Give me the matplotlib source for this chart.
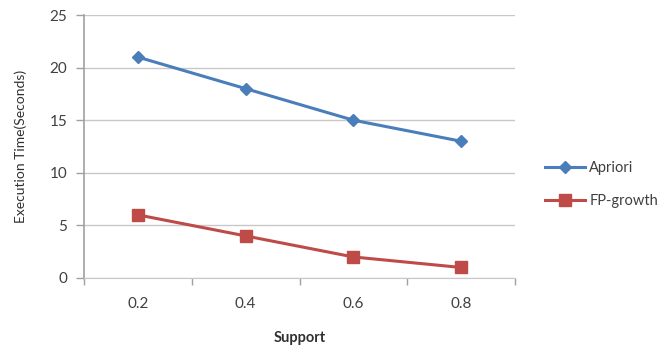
import matplotlib
matplotlib.use("Agg")
import matplotlib.pyplot as plt
from matplotlib.ticker import FixedLocator

support = ["0.2", "0.4", "0.6", "0.8"]
apriori = [21, 18, 15, 13]
fp_growth = [6, 4, 2, 1]
y_ticks = [0, 5, 10, 15, 20, 25]

plt.rcParams["font.family"] = ["Lato", "DejaVu Sans"]

fig = plt.figure(figsize=(6.7, 3.54), dpi=100)
ax = fig.add_axes([0.1254, 0.2147, 0.6433, 0.7429])

x = list(range(len(support)))
ax.plot(x, apriori, color="#4A7EBB", lw=2.2, marker="D", ms=6.5,
        label="Apriori")
ax.plot(x, fp_growth, color="#BE4B48", lw=2.2, marker="s", ms=8,
        label="FP-growth")

ax.set_xlim(-0.5, len(support) - 0.5)
ax.set_ylim(0, 25)
ax.set_xticks(x)
ax.set_xticklabels(support)
ax.xaxis.set_minor_locator(FixedLocator([i - 0.5 for i in range(len(support) + 1)]))
ax.tick_params(axis="x", which="major", length=0, pad=14, labelsize=11,
               labelcolor="#404040")
ax.tick_params(axis="x", which="minor", length=5, width=1, color="#A0A0A0",
               direction="out")
ax.set_yticks(y_ticks)
ax.tick_params(axis="y", length=6, width=1, color="#A0A0A0", pad=6,
               labelsize=11, labelcolor="#404040")

ax.yaxis.grid(True, color="#C8C8C8", lw=1)
ax.set_axisbelow(True)
for side in ("top", "right"):
    ax.spines[side].set_visible(False)
ax.spines["left"].set_color("#A0A0A0")
ax.spines["bottom"].set_color("#C8C8C8")
ax.spines["left"].set_linewidth(1.2)

ax.set_ylabel("Execution Time(Seconds)", fontsize=10, color="#303030",
              labelpad=16)
ax.set_xlabel("Support", fontsize=10.5, fontweight="bold", color="#303030",
              labelpad=14)

ax.legend(loc="center left", bbox_to_anchor=(1.04, 0.355), frameon=False,
          fontsize=10.5, handlelength=2.7, labelcolor="#404040",
          handletextpad=0.3, labelspacing=1.3)

fig.savefig("out.png", dpi=100)
